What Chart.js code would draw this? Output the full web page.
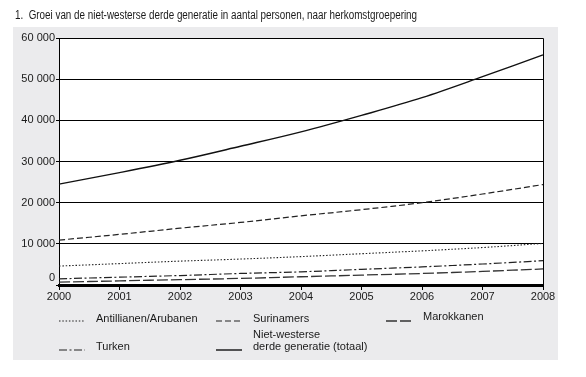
<!DOCTYPE html>
<html>
<head>
<meta charset="utf-8">
<script src="https://cdn.jsdelivr.net/npm/chart.js@4/dist/chart.umd.min.js"></script>
<style>
html,body{margin:0;padding:0;background:#fff;}
#wrap{position:relative;width:586px;height:377px;}
</style>
</head>
<body>
<div id="wrap"><canvas id="c" width="586" height="377"></canvas></div>
<script>
const titleText = '1.  Groei van de niet-westerse derde generatie in aantal personen, naar herkomstgroepering';
const years = ['2000','2001','2002','2003','2004','2005','2006','2007','2008'];
const antillianen = [4600, 5200, 5800, 6300, 6900, 7600, 8300, 9100, 10100];
const surinamers = [10900, 12300, 13800, 15200, 16800, 18300, 20000, 22100, 24400];
const marokkanen = [700, 1000, 1300, 1600, 2000, 2400, 2800, 3300, 3900];
const turken = [1500, 1900, 2300, 2800, 3200, 3800, 4400, 5100, 5900];
const totaal = [24500, 27300, 30300, 33700, 37200, 41200, 45500, 50600, 55900];
const yTicks = [0, 10000, 20000, 30000, 40000, 50000, 60000];

const FONT = '"Liberation Sans", Arial, sans-serif';
const INK = '#1a1a1a';

const styles = {
  antillianen: {dash:[1.5,1.8], width:1.1, color:'#222'},
  surinamers: {dash:[6,3], width:1.2, color:'#222'},
  marokkanen: {dash:[11,3], width:1.3, color:'#333'},
  turken: {dash:[8,2.5,2,2.5], width:1.2, color:'#222'},
  totaal: {dash:[], width:1.4, color:'#111'}
};

const series = [
  {key:'antillianen', label:'Antillianen/Arubanen', data:antillianen},
  {key:'surinamers', label:'Surinamers', data:surinamers},
  {key:'marokkanen', label:'Marokkanen', data:marokkanen},
  {key:'turken', label:'Turken', data:turken},
  {key:'totaal', label:'Niet-westerse derde generatie (totaal)', data:totaal}
];

const fmt = v => String(v).replace(/\B(?=(\d{3})+(?!\d))/g, ' ');

const decor = {
  id:'decor',
  beforeDraw(chart){
    const ctx = chart.ctx;
    ctx.save();
    ctx.fillStyle = '#fff';
    ctx.fillRect(0,0,chart.width,chart.height);
    ctx.fillStyle = '#ebebed';
    ctx.fillRect(13,27,545,333);
    const a = chart.chartArea;
    ctx.fillStyle = '#fff';
    ctx.fillRect(a.left,a.top,a.right-a.left,a.bottom-a.top);
    ctx.fillStyle = INK;
    ctx.font = '12px ' + FONT;
    ctx.textBaseline = 'middle';
    ctx.textAlign = 'left';
    // reference typeface is condensed: squeeze horizontally
    ctx.translate(15, 16);
    ctx.scale(0.82, 1);
    ctx.fillText(titleText, 0, 0);
    ctx.restore();
  },
  afterDraw(chart){
    const ctx = chart.ctx;
    const a = chart.chartArea;
    ctx.save();
    ctx.strokeStyle = '#000';
    ctx.lineWidth = 1;
    ctx.beginPath();
    ctx.moveTo(a.left, a.top+0.5); ctx.lineTo(a.right+0.5, a.top+0.5);
    ctx.lineTo(a.right+0.5, a.bottom);
    ctx.stroke();
    const ys = chart.scales.y;
    ctx.fillStyle = INK;
    ctx.font = '11px ' + FONT;
    ctx.textAlign = 'right';
    ctx.textBaseline = 'middle';
    ctx.fillText(fmt(0), a.left - 4, ys.getPixelForValue(0) - 7);
    const items = [
      {s:'antillianen', x:59, y:321, lines:['Antillianen/Arubanen'], ty:319},
      {s:'surinamers', x:216, y:321, lines:['Surinamers'], ty:319},
      {s:'marokkanen', x:386, y:321, lines:['Marokkanen'], ty:317},
      {s:'turken', x:59, y:350, lines:['Turken'], ty:347},
      {s:'totaal', x:216, y:350, lines:['Niet-westerse','derde generatie (totaal)'], ty:335}
    ];
    items.forEach(it => {
      const st = styles[it.s];
      ctx.strokeStyle = st.color;
      ctx.lineWidth = st.width;
      ctx.setLineDash(st.dash);
      ctx.beginPath();
      ctx.moveTo(it.x, it.y); ctx.lineTo(it.x + 26, it.y);
      ctx.stroke();
      ctx.setLineDash([]);
      ctx.fillStyle = INK;
      ctx.textAlign = 'left';
      ctx.textBaseline = 'middle';
      it.lines.forEach((t,i) => ctx.fillText(t, it.x + 37, it.ty + i*12));
    });
    ctx.restore();
  }
};

new Chart(document.getElementById('c'), {
  type:'line',
  data:{
    labels:years,
    datasets: series.map(s => ({
      label:s.label,
      data:s.data,
      borderColor:styles[s.key].color,
      borderWidth:styles[s.key].width,
      borderDash:styles[s.key].dash,
      pointRadius:0,
      tension:0.35,
      fill:false
    }))
  },
  options:{
    responsive:false,
    animation:false,
    devicePixelRatio:1,
    layout:{padding:{left:0, top:38, right:43, bottom:72}},
    plugins:{legend:{display:false}, title:{display:false}, tooltip:{enabled:false}},
    scales:{
      x:{
        type:'category',
        offset:false,
        afterFit(s){ s.height = 20; },
        grid:{drawOnChartArea:false, drawTicks:true, tickLength:5, color:'#000', lineWidth:1},
        border:{display:true, color:'#000', width:3},
        ticks:{color:INK, font:{family:FONT, size:11}, padding:0, maxRotation:0, autoSkip:false}
      },
      y:{
        min:0, max:60000,
        afterFit(s){ s.width = 59; },
        afterBuildTicks(s){ s.ticks = yTicks.map(v => ({value:v})); },
        grid:{color:'#000', lineWidth:1, drawTicks:true, tickLength:3},
        border:{display:true, color:'#000', width:1},
        ticks:{color:INK, font:{family:FONT, size:11}, padding:1,
          callback:v => v === 0 ? '' : fmt(v)}
      }
    }
  },
  plugins:[decor]
});
</script>
</body>
</html>
